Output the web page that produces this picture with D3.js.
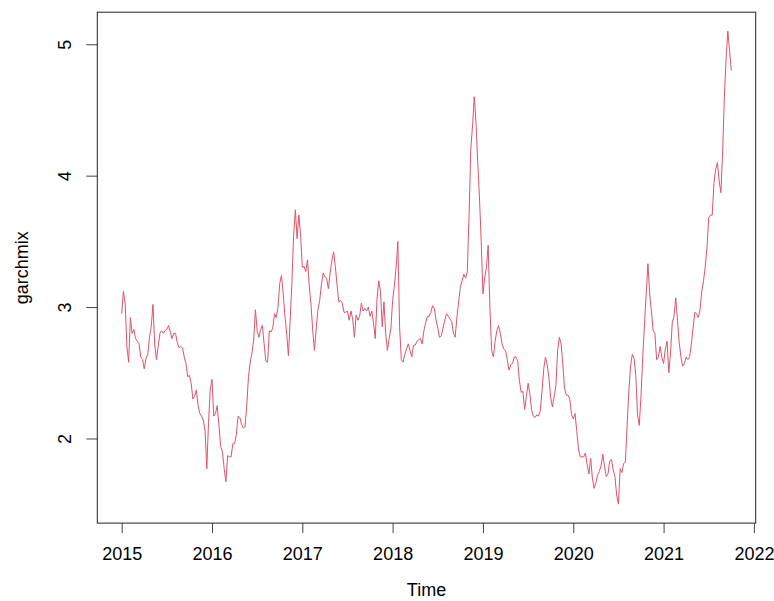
<!DOCTYPE html>
<html>
<head>
<meta charset="utf-8">
<script src="https://cdn.jsdelivr.net/npm/d3@7/dist/d3.min.js"></script>
<style>
  body { margin: 0; background: #fff; }
  text { font-family: "Liberation Sans", Arial, sans-serif; fill: #000; }
</style>
</head>
<body>
<div class="container"></div>
<script>
// weekly series (frequency 52), starting 2015
var startYear = 2015;
var frequency = 52;
var v2015 = [2.95, 3.12, 3.03, 2.70, 2.58, 2.92, 2.80, 2.83, 2.76, 2.74,
             2.72, 2.62, 2.60, 2.53, 2.61, 2.64, 2.77, 2.85, 3.02, 2.72,
             2.60, 2.70, 2.80, 2.82, 2.80, 2.82, 2.83, 2.86, 2.81, 2.76,
             2.80, 2.80, 2.73, 2.69, 2.70, 2.69, 2.62, 2.57, 2.47, 2.48,
             2.42, 2.30, 2.32, 2.37, 2.25, 2.19, 2.17, 2.14, 2.06, 1.77,
             2.12, 2.37];
var v2016 = [2.45, 2.17, 2.19, 2.25, 2.10, 1.94, 1.90, 1.77, 1.67, 1.87,
             1.86, 1.86, 1.96, 1.96, 2.03, 2.17, 2.16, 2.11, 2.08, 2.09,
             2.25, 2.47, 2.58, 2.65, 2.75, 2.98, 2.82, 2.77, 2.83, 2.86,
             2.72, 2.59, 2.58, 2.82, 2.81, 2.84, 2.95, 2.92, 3.00, 3.18,
             3.24, 3.10, 2.93, 2.80, 2.63, 2.90, 3.18, 3.55, 3.74, 3.52,
             3.70, 3.55];
var v2017 = [3.30, 3.31, 3.27, 3.36, 3.16, 3.02, 2.82, 2.67, 2.84, 2.98,
             3.05, 3.17, 3.26, 3.23, 3.22, 3.14, 3.26, 3.35, 3.42, 3.31,
             3.17, 3.04, 3.05, 3.03, 2.96, 2.96, 2.97, 2.90, 2.97, 2.91,
             2.77, 2.94, 2.90, 2.93, 3.03, 2.97, 2.99, 2.97, 3.00, 2.93,
             2.97, 2.88, 2.76, 3.06, 3.20, 3.12, 2.85, 3.04, 2.80, 2.67,
             2.76, 2.84];
var v2018 = [3.05, 3.16, 3.30, 3.50, 2.85, 2.60, 2.58, 2.64, 2.68, 2.72,
             2.67, 2.62, 2.71, 2.71, 2.74, 2.75, 2.76, 2.72, 2.82, 2.88,
             2.93, 2.93, 2.96, 3.01, 2.99, 2.90, 2.84, 2.77, 2.78, 2.84,
             2.90, 2.95, 2.93, 2.91, 2.89, 2.80, 2.77, 2.92, 3.04, 3.15,
             3.20, 3.25, 3.22, 3.27, 3.70, 4.20, 4.38, 4.60, 4.40, 4.10,
             3.83, 3.50];
var v2019 = [3.10, 3.22, 3.30, 3.47, 3.00, 2.67, 2.62, 2.74, 2.82, 2.86,
             2.80, 2.72, 2.68, 2.67, 2.60, 2.52, 2.56, 2.57, 2.62, 2.62,
             2.59, 2.44, 2.35, 2.36, 2.22, 2.32, 2.42, 2.34, 2.22, 2.17,
             2.16, 2.18, 2.17, 2.21, 2.36, 2.53, 2.62, 2.56, 2.46, 2.31,
             2.24, 2.32, 2.40, 2.67, 2.77, 2.72, 2.56, 2.38, 2.33, 2.33,
             2.30, 2.18];
var v2020 = [2.15, 2.19, 2.06, 1.92, 1.86, 1.86, 1.86, 1.89, 1.80, 1.73,
             1.85, 1.70, 1.62, 1.66, 1.72, 1.75, 1.79, 1.88, 1.79, 1.71,
             1.73, 1.83, 1.84, 1.76, 1.71, 1.57, 1.50, 1.77, 1.74, 1.81,
             1.82, 2.10, 2.36, 2.55, 2.64, 2.61, 2.48, 2.18, 2.10, 2.32,
             2.62, 2.87, 3.10, 3.33, 3.10, 2.97, 2.82, 2.80, 2.60, 2.62,
             2.70, 2.62];
var v2021 = [2.57, 2.68, 2.74, 2.50, 2.65, 2.88, 2.93, 3.07, 2.90, 2.73,
             2.62, 2.55, 2.57, 2.62, 2.60, 2.62, 2.72, 2.84, 2.96, 2.95,
             2.92, 2.98, 3.12, 3.20, 3.31, 3.45, 3.68, 3.70, 3.70, 3.94,
             4.05, 4.10, 3.96, 3.87, 4.18, 4.60, 4.89, 5.10, 4.95, 4.80];

var xTicks = [2015, 2016, 2017, 2018, 2019, 2020, 2021, 2022];
var yTicks = [2, 3, 4, 5];
var xTitle = 'Time';
var yTitle = 'garchmix';

var width = 774;
var height = 601;
var plot = {left: 97.3, right: 755.7, top: 12.2, bottom: 523.1};

var values = [].concat(v2015, v2016, v2017, v2018, v2019, v2020, v2021);
var series = values.map(function(v, i) {
    return {t: startYear + i / frequency, v: v};
});

// R style: extend data range by 4% on each side
var pad = function(ext) {
    var d = (ext[1] - ext[0]) * 0.04;
    return [ext[0] - d, ext[1] + d];
};

var XScale = d3.scaleLinear()
    .domain(pad(d3.extent(series, function(d) { return d.t; })))
    .range([plot.left, plot.right]);

var YScale = d3.scaleLinear()
    .domain(pad(d3.extent(series, function(d) { return d.v; })))
    .range([plot.bottom, plot.top]);

var line = d3.line()
    .x(function(d) { return XScale(d.t); })
    .y(function(d) { return YScale(d.v); });

var svg = d3.select('.container').append('svg')
    .attr('width', width)
    .attr('height', height);

svg.append('path')
    .datum(series)
    .attr('d', line)
    .attr('fill', 'none')
    .attr('stroke', '#DF536B')
    .attr('stroke-width', 1);

var xAxis = d3.axisBottom(XScale)
    .tickValues(xTicks)
    .tickFormat(d3.format('d'))
    .tickSize(10)
    .tickPadding(14);

var gx = svg.append('g')
    .attr('transform', 'translate(0,' + plot.bottom + ')')
    .call(xAxis);
gx.select('.domain').remove();
gx.selectAll('line').attr('stroke', '#444');
gx.selectAll('text')
    .attr('font-size', 18)
    .attr('fill', '#000');

var yAxis = d3.axisLeft(YScale)
    .tickValues(yTicks)
    .tickFormat(d3.format('d'))
    .tickSize(11);

var gy = svg.append('g')
    .attr('transform', 'translate(' + plot.left + ',0)')
    .call(yAxis);
gy.select('.domain').remove();
gy.selectAll('line').attr('stroke', '#444');
// R draws y labels parallel to the axis
gy.selectAll('text')
    .attr('font-size', 18)
    .attr('fill', '#000')
    .attr('text-anchor', 'middle')
    .attr('x', 0)
    .attr('dy', 0)
    .attr('transform', 'translate(-26,0) rotate(-90)');

svg.append('rect')
    .attr('x', plot.left)
    .attr('y', plot.top)
    .attr('width', plot.right - plot.left)
    .attr('height', plot.bottom - plot.top)
    .attr('fill', 'none')
    .attr('stroke', '#222')
    .attr('stroke-width', 1);

svg.append('text')
    .attr('x', (plot.left + plot.right) / 2)
    .attr('y', 596)
    .attr('text-anchor', 'middle')
    .attr('font-size', 18)
    .text(xTitle);

svg.append('text')
    .attr('transform', 'translate(28,' + (plot.top + plot.bottom) / 2 + ') rotate(-90)')
    .attr('text-anchor', 'middle')
    .attr('font-size', 18)
    .text(yTitle);
</script>
</body>
</html>
